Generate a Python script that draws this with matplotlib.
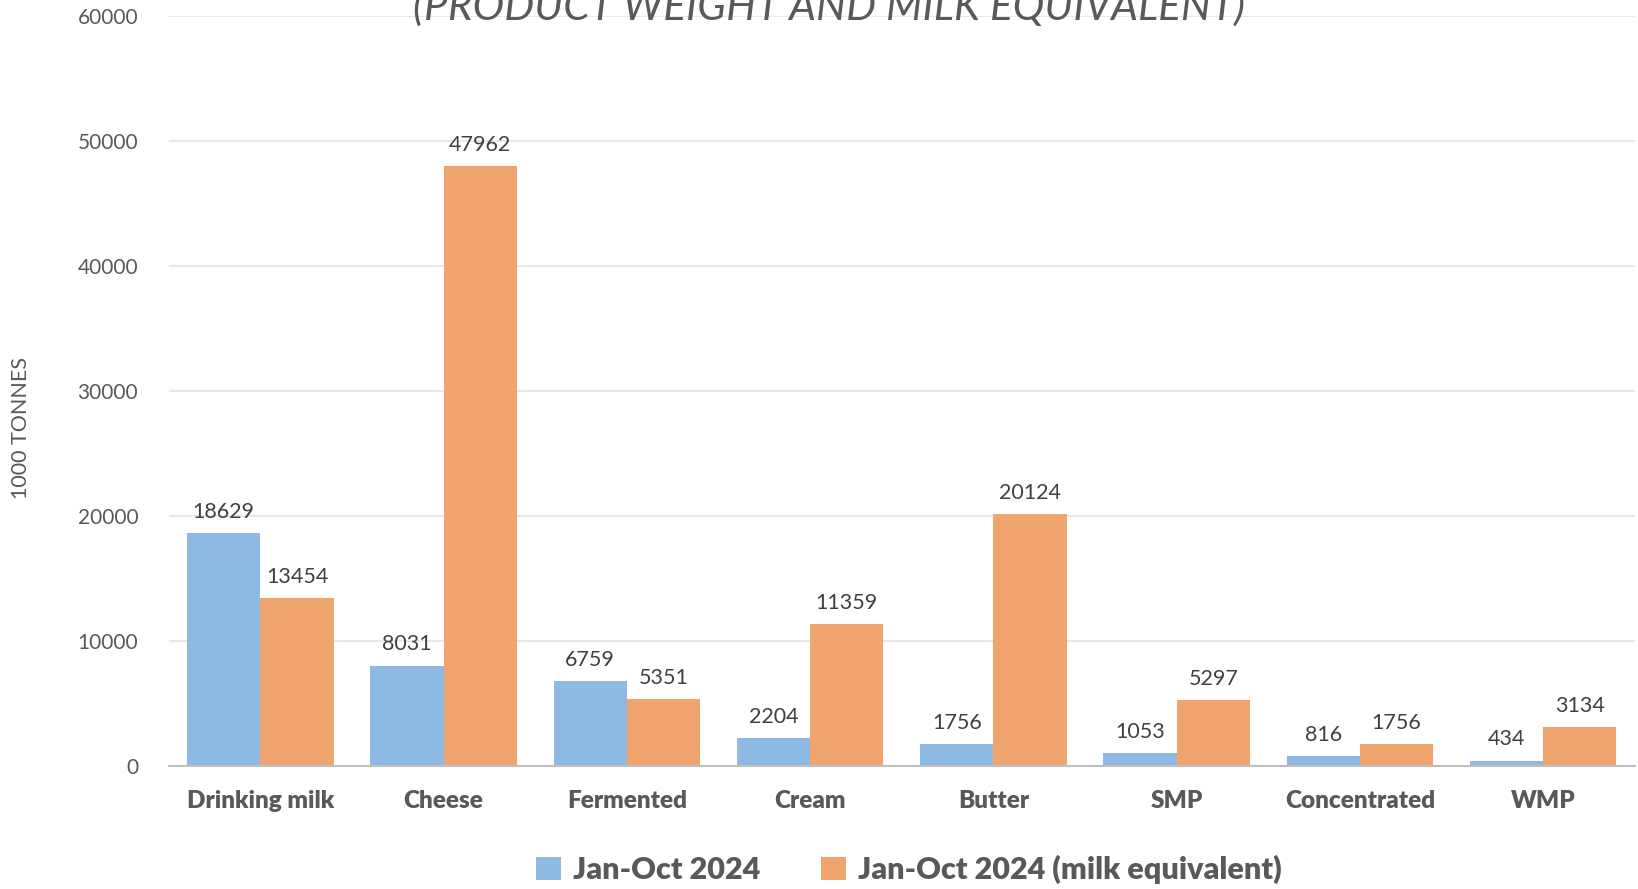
import numpy as np
from matplotlib import pyplot as plt

categories = ["Drinking milk", "Cheese", "Fermented", "Cream", "Butter",
              "SMP", "Concentrated", "WMP"]
product_weight = [18629, 8031, 6759, 2204, 1756, 1053, 816, 434]
milk_equivalent = [13454, 47962, 5351, 11359, 20124, 5297, 1756, 3134]
series_names = ["Jan-Oct 2024", "Jan-Oct 2024 (milk equivalent)"]
y_ticks = [0, 10000, 20000, 30000, 40000, 50000, 60000]

plt.rcParams['font.family'] = ['Lato', 'DejaVu Sans']

fig = plt.figure(figsize=(16.38, 8.89), dpi=100)
ax = fig.add_axes([0.103, 0.1384, 0.895, 0.844])

x = np.arange(len(categories))
w = 0.4
b1 = ax.bar(x - w / 2, product_weight, w, color="#8DB9E2", label=series_names[0])
b2 = ax.bar(x + w / 2, milk_equivalent, w, color="#F0A46E", label=series_names[1])

for bars in (b1, b2):
    ax.bar_label(bars, labels=[str(v) for v in bars.datavalues], padding=8,
                 fontsize=15.5, color="#404040")

ax.set_xlim(-0.5, len(categories) - 0.5)
ax.set_ylim(0, 60000)
ax.set_yticks(y_ticks)
ax.set_yticklabels([str(t) for t in y_ticks], fontsize=15, color="#595959")
ax.set_xticks(x)
ax.set_xticklabels(categories, fontsize=17.5, fontweight="heavy", color="#595959")
ax.tick_params(axis="both", length=0)
ax.tick_params(axis="x", pad=17)
ax.tick_params(axis="y", pad=22)
ax.yaxis.grid(True, color="#E4E4E4", linewidth=1.2)
ax.set_axisbelow(True)
for s in ["top", "right", "left"]:
    ax.spines[s].set_visible(False)
ax.spines["bottom"].set_color("#BFBFBF")
ax.spines["bottom"].set_linewidth(1.5)

fig.text(0.013, 0.518, "1000 TONNES", rotation=90, fontsize=15.5,
         color="#595959", va="center", ha="center")
fig.text(0.506, 0.992, "(PRODUCT WEIGHT AND MILK EQUIVALENT)", fontsize=30.5,
         style="italic", color="#595959", ha="center", va="center")

leg = fig.legend(handles=[b1, b2], loc="center", bbox_to_anchor=(0.555, 0.022),
                 ncol=2, frameon=False, prop={"size": 22, "weight": "heavy"},
                 handlelength=0.8, handleheight=0.8, columnspacing=2.0,
                 handletextpad=0.4)
for t in leg.get_texts():
    t.set_color("#595959")

fig.savefig("out.png", dpi=100)
